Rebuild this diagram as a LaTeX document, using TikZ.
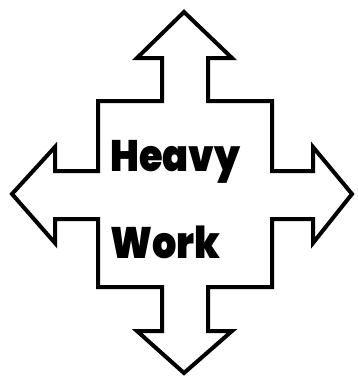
\documentclass[tikz,border=0pt]{standalone}
\usepackage{fontspec}
\newfontfamily\heavyfont{Poppins Black}
\begin{document}
\begin{tikzpicture}[x=1pt,y=-1pt,
  outline/.style={draw=black,line width=4pt,line join=miter,fill=white},
  word/.style={font=\heavyfont\fontsize{44}{44}\selectfont,inner sep=0pt,anchor=base west,xscale=0.87}]
\useasboundingbox (0,0) rectangle (358,378);
\draw[outline] (184,12) -- (232,58) -- (208,58) -- (208,101) -- (272,101) -- (272,171)
  -- (313,171) -- (313,147) -- (352,194) -- (313,243) -- (313,219) -- (272,219)
  -- (272,287) -- (208,287) -- (208,331) -- (232,331) -- (184,373) -- (137,331)
  -- (162,331) -- (162,287) -- (98,287) -- (98,219) -- (55,219) -- (55,243)
  -- (12,194) -- (55,147) -- (55,171) -- (98,171) -- (98,101) -- (162,101)
  -- (162,58) -- (137,58) -- cycle;
\node[word] (heavy) at (110,171) {Heavy};
\node[word] (work) at (110,258) {Work};
\end{tikzpicture}
\end{document}
